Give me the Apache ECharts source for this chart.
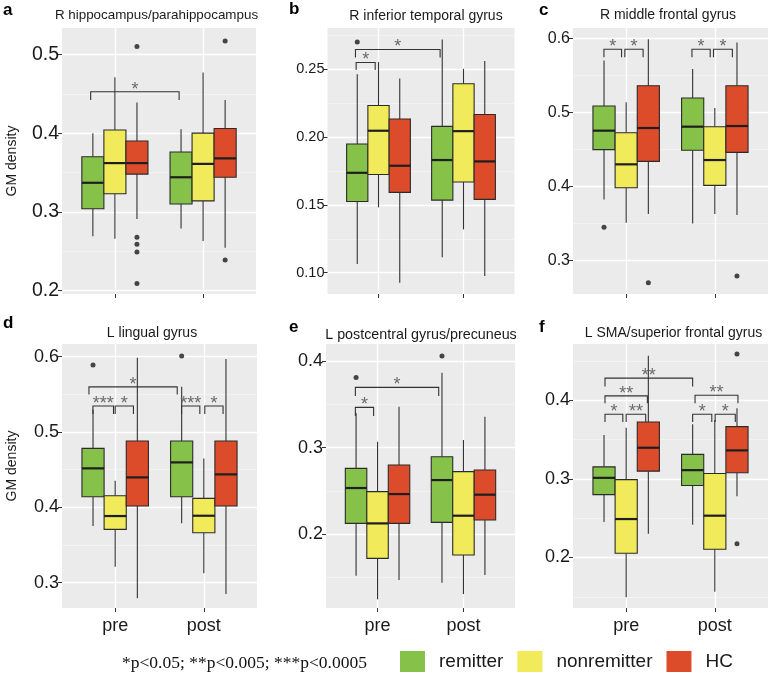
<!DOCTYPE html>
<html><head><meta charset="utf-8">
<script src="https://cdn.jsdelivr.net/npm/echarts@6/dist/echarts.min.js"></script>
<style>html,body{margin:0;padding:0;background:#fff}#c{width:770px;height:678px}</style>
</head><body><div id="c"></div>
<script>
// ---------- DATA ----------
const groups = ['remitter', 'nonremitter', 'HC'];
const timepoints = ['pre', 'post'];
const panelTitles = ['R hippocampus/parahippocampus', 'R inferior temporal gyrus', 'R middle frontal gyrus',
  'L lingual gyrus', 'L postcentral gyrus/precuneus', 'L SMA/superior frontal gyrus'];
const panelLetters = ['a', 'b', 'c', 'd', 'e', 'f'];
const footnote = '*p<0.05; **p<0.005; ***p<0.0005';

// boxes: [whiskerLow, Q1, median, Q3, whiskerHigh] for remitter, nonremitter, HC
const a_pre  = [[0.269,0.304,0.337,0.370,0.400],[0.266,0.323,0.362,0.404,0.471],[0.291,0.348,0.362,0.390,0.439]];
const a_post = [[0.279,0.310,0.344,0.376,0.405],[0.263,0.314,0.361,0.400,0.477],[0.2545,0.344,0.368,0.406,0.442]];
const b_pre  = [[0.1064,0.1525,0.1736,0.1948,0.2463],[0.1481,0.1724,0.2046,0.2232,0.2552],[0.0926,0.1592,0.1788,0.2132,0.2431]];
const b_post = [[0.1113,0.1535,0.1830,0.2078,0.2719],[0.1319,0.1668,0.2043,0.2392,0.2502],[0.0975,0.1540,0.1820,0.2166,0.2559]];
const c_pre  = [[0.3827,0.4498,0.4754,0.5087,0.570],[0.3512,0.3985,0.430,0.4727,0.5136],[0.363,0.434,0.479,0.5361,0.5987]];
const c_post = [[0.3503,0.4489,0.4808,0.5195,0.5586],[0.3629,0.4016,0.4358,0.4808,0.506],[0.3616,0.4461,0.4817,0.5361,0.5942]];
const d_pre  = [[0.3752,0.4142,0.4518,0.4783,0.53],[0.3212,0.3708,0.3885,0.4155,0.4354],[0.2792,0.4018,0.4398,0.4881,0.5987]];
const d_post = [[0.3788,0.4142,0.4597,0.4881,0.56],[0.3124,0.3664,0.3889,0.412,0.465],[0.285,0.4018,0.4438,0.4881,0.5969]];
const e_pre  = [[0.1518,0.2123,0.2532,0.2759,0.34],[0.1245,0.1719,0.2123,0.249,0.3067],[0.1468,0.2123,0.2462,0.2798,0.3472]];
const e_post = [[0.1437,0.2135,0.2624,0.2894,0.3865],[0.1306,0.1757,0.2212,0.2721,0.3087],[0.1526,0.2162,0.2455,0.274,0.3356]];
const f_pre  = [[0.2451,0.280,0.3013,0.3153,0.3557],[0.1494,0.2055,0.2489,0.2991,0.3651],[0.2302,0.3098,0.3396,0.3723,0.4566]];
const f_post = [[0.2417,0.2915,0.3111,0.3311,0.3694],[0.1566,0.2106,0.2532,0.3068,0.3749],[0.2779,0.3077,0.3362,0.3664,0.3898]];

// outliers: [timeIndex, groupIndex, value]
const a_outliers = [[0,2,0.510],[0,2,0.268],[0,2,0.259],[0,2,0.249],[0,2,0.209],[1,2,0.517],[1,2,0.239]];
const b_outliers = [[0,0,0.2699]];
const c_outliers = [[0,0,0.345],[0,2,0.2703],[1,2,0.2793]];
const d_outliers = [[0,0,0.589],[1,0,0.601]];
const e_outliers = [[0,0,0.381],[1,0,0.4058]];
const f_outliers = [[1,2,0.4587],[1,2,0.2174]];

// significance brackets: [xStart, xEnd, yLine, yTipEnd, label] (x: pre=1, post=2)
const a_brackets = [[0.725,1.728,0.4526,0.442,'*']];
const b_brackets = [[0.729,1.725,0.2645,0.2586,'*'],[0.737,0.961,0.2549,0.2493,'*']];
const c_brackets = [[0.749,0.948,0.5852,0.5744,'*'],[0.985,1.191,0.5852,0.5744,'*'],
                    [1.742,1.948,0.5852,0.5744,'*'],[1.985,2.198,0.5852,0.5744,'*']];
const d_brackets = [[0.704,1.700,0.560,0.550,'*'],
                    [0.749,0.981,0.5345,0.5239,'***'],[1.000,1.206,0.5345,0.5239,'*'],
                    [1.749,1.955,0.5345,0.5239,'***'],[2.011,2.217,0.5345,0.5239,'*']];
const e_brackets = [[0.742,1.712,0.3696,0.3596,'*'],[0.742,0.954,0.3464,0.3364,'*']];
const f_brackets = [[0.761,1.750,0.4281,0.4174,'**'],[0.761,1.239,0.4055,0.3962,'**'],
                    [0.761,0.962,0.3821,0.3723,'*'],[1.000,1.220,0.3821,0.3723,'**'],
                    [1.777,2.261,0.4064,0.3962,'**'],[1.750,1.966,0.3821,0.3723,'*'],[2.004,2.231,0.3821,0.3723,'*']];

// axis ranges and tick values
const yMin = [0.1958, 0.0843, 0.2551, 0.2664, 0.1145, 0.1358];
const yMax = [0.5335, 0.2803, 0.6139, 0.6169, 0.4197, 0.4715];
const yMajor = [[0.2,0.3,0.4,0.5],[0.10,0.15,0.20,0.25],[0.3,0.4,0.5,0.6],[0.3,0.4,0.5,0.6],[0.2,0.3,0.4],[0.2,0.3,0.4]];
const yMinor = [[0.25,0.35,0.45],[0.125,0.175,0.225,0.275],[0.35,0.45,0.55],[0.35,0.45,0.55],[0.15,0.25,0.35],[0.15,0.25,0.35,0.45]];
const yDecimals = [1, 2, 1, 1, 1, 1];

// ---------- LAYOUT / STYLE ----------
const grids = [
  {left: 62, top: 28, width: 194, height: 266},
  {left: 327.5, top: 28, width: 187, height: 266},
  {left: 573, top: 28, width: 195, height: 266},
  {left: 62, top: 344, width: 195, height: 264},
  {left: 326, top: 344, width: 189, height: 264},
  {left: 573, top: 344, width: 195, height: 264}
];
const yLabelSize = [19.5, 14.5, 16, 18, 18, 18];
const titleSize = [13.4, 14, 14, 14, 14.3, 14];
const titlePos = [[156.5, 15], [426, 16], [668, 15], [152, 333.5], [421, 335], [673.5, 333.5]];
const letterPos = [[3, 10], [289, 9], [539, 10], [3, 323], [289, 327], [539, 327]];
const colors = ['#86C14A', '#F1EB5B', '#DD4C2A'];
const BOX_W = 0.25;
const FONT = "'Liberation Sans', Arial, sans-serif";

const preBoxes = [a_pre, b_pre, c_pre, d_pre, e_pre, f_pre];
const postBoxes = [a_post, b_post, c_post, d_post, e_post, f_post];
const outliers = [a_outliers, b_outliers, c_outliers, d_outliers, e_outliers, f_outliers];
const brackets = [a_brackets, b_brackets, c_brackets, d_brackets, e_brackets, f_brackets];

const gridOpts = [], xAxes = [], yAxes = [], series = [], graphics = [];

function boxRenderer(color) {
  return function (params, api) {
    const x = api.value(0);
    const lo = api.coord([x, api.value(1)]);
    const q1 = api.coord([x, api.value(2)]);
    const md = api.coord([x, api.value(3)]);
    const q3 = api.coord([x, api.value(4)]);
    const hi = api.coord([x, api.value(5)]);
    const half = api.size([BOX_W, 0])[0] / 2;
    const cx = lo[0];
    const ls = {stroke: '#333', lineWidth: 1.1};
    return {type: 'group', children: [
      {type: 'line', shape: {x1: cx, y1: hi[1], x2: cx, y2: q3[1]}, style: ls},
      {type: 'line', shape: {x1: cx, y1: q1[1], x2: cx, y2: lo[1]}, style: ls},
      {type: 'rect', shape: {x: cx - half, y: q3[1], width: 2 * half, height: q1[1] - q3[1]},
        style: {fill: color, stroke: '#2b2b2b', lineWidth: 1.1}},
      {type: 'line', shape: {x1: cx - half, y1: md[1], x2: cx + half, y2: md[1]},
        style: {stroke: '#1e1e1e', lineWidth: 2.2}}
    ]};
  };
}

function bracketRenderer(list) {
  return function (params, api) {
    const x1 = api.value(0), x2 = api.value(1), y = api.value(2), tip = api.value(3);
    const p1 = api.coord([x1, tip]), p2 = api.coord([x1, y]), p3 = api.coord([x2, y]), p4 = api.coord([x2, tip]);
    const label = list[params.dataIndex][4];
    return {type: 'group', children: [
      {type: 'polyline', shape: {points: [p1, p2, p3, p4]}, style: {stroke: '#333', lineWidth: 1.1, fill: null}},
      {type: 'text', x: (p2[0] + p3[0]) / 2, y: p2[1] - 2,
        style: {text: label, fill: '#6a6a6a', font: '18px ' + FONT, align: 'center', verticalAlign: 'middle'}}
    ]};
  };
}

for (let p = 0; p < 6; p++) {
  const g = grids[p];
  gridOpts.push({left: g.left, top: g.top, width: g.width, height: g.height,
    show: true, backgroundColor: '#EBEBEB', borderWidth: 0, containLabel: false});
  const bottomRow = p >= 3;
  xAxes.push({type: 'value', gridIndex: p, min: 0.4, max: 2.6,
    axisLine: {show: false},
    axisTick: {show: true, length: 4, lineStyle: {color: '#333', width: 1}, customValues: [1, 2]},
    axisLabel: {show: bottomRow, customValues: [1, 2], margin: 9, fontSize: 18, color: '#1a1a1a', fontFamily: FONT,
      formatter: v => timepoints[Math.round(v) - 1]},
    splitLine: {show: true, lineStyle: {color: '#fff', width: 1.3}}
  });
  const dec = yDecimals[p];
  yAxes.push({type: 'value', gridIndex: p, min: yMin[p], max: yMax[p],
    axisLine: {show: false},
    axisTick: {show: true, length: 4, lineStyle: {color: '#333', width: 1}, customValues: yMajor[p]},
    axisLabel: {show: true, customValues: yMajor[p], margin: 3, fontSize: yLabelSize[p], color: '#1a1a1a', fontFamily: FONT,
      formatter: v => v.toFixed(dec)},
    splitLine: {show: true, lineStyle: {color: '#fff', width: 1.3}}
  });
  yAxes.push({type: 'value', gridIndex: p, min: yMin[p], max: yMax[p], position: 'right',
    axisLine: {show: false},
    axisTick: {show: false, customValues: yMinor[p]},
    axisLabel: {show: false, customValues: yMinor[p]},
    splitLine: {show: true, lineStyle: {color: '#F7F7F7', width: 0.7}}
  });

  for (let gi = 0; gi < 3; gi++) {
    const data = [
      [1 + (gi - 1) * BOX_W].concat(preBoxes[p][gi]),
      [2 + (gi - 1) * BOX_W].concat(postBoxes[p][gi])
    ];
    series.push({type: 'custom', name: groups[gi], xAxisIndex: p, yAxisIndex: 2 * p,
      itemStyle: {color: colors[gi]}, renderItem: boxRenderer(colors[gi]),
      encode: {x: 0, y: [1, 2, 3, 4, 5]}, data: data, silent: true, z: 3});
  }
  series.push({type: 'scatter', name: 'outliers', xAxisIndex: p, yAxisIndex: 2 * p,
    symbolSize: 5, itemStyle: {color: '#1a1a1a'}, silent: true, z: 4,
    data: outliers[p].map(o => [o[0] + 1 + (o[1] - 1) * BOX_W, o[2]])});
  series.push({type: 'custom', name: 'brackets', xAxisIndex: p, yAxisIndex: 2 * p,
    renderItem: bracketRenderer(brackets[p]), encode: {x: [0, 1], y: [2, 3]},
    data: brackets[p].map(b => b.slice(0, 4)), silent: true, z: 5});

  graphics.push({type: 'text', x: titlePos[p][0], y: titlePos[p][1],
    style: {text: panelTitles[p], font: titleSize[p] + 'px ' + FONT, fill: '#1a1a1a', align: 'center', verticalAlign: 'middle'}});
}
letterPos.forEach((lp, i) => graphics.push({type: 'text', x: lp[0], y: lp[1],
  style: {text: panelLetters[i], font: 'bold 17px ' + FONT, fill: '#000', align: 'left', verticalAlign: 'middle'}}));
[[12, 161], [12, 466]].forEach(pos => graphics.push({type: 'text', x: pos[0], y: pos[1], rotation: Math.PI / 2,
  style: {text: 'GM density', font: '14px ' + FONT, fill: '#1a1a1a', align: 'center', verticalAlign: 'middle'}}));
graphics.push({type: 'text', x: 122, y: 663,
  style: {text: footnote, font: "17.5px 'Liberation Serif', 'Times New Roman', serif", fill: '#111', align: 'left', verticalAlign: 'middle'}});

const chart = echarts.init(document.getElementById('c'), null, {renderer: 'canvas'});
chart.setOption({
  animation: false,
  backgroundColor: '#fff',
  grid: gridOpts, xAxis: xAxes, yAxis: yAxes, series: series,
  legend: {data: groups, left: 400, top: 651, padding: 0, icon: 'rect', itemWidth: 25, itemHeight: 21, itemGap: 14,
    itemStyle: {borderWidth: 0},
    textStyle: {fontSize: 19, color: '#1a1a1a', fontFamily: FONT, padding: [0, 0, 0, 9]}, selectedMode: false},
  graphic: graphics
});
</script></body></html>
